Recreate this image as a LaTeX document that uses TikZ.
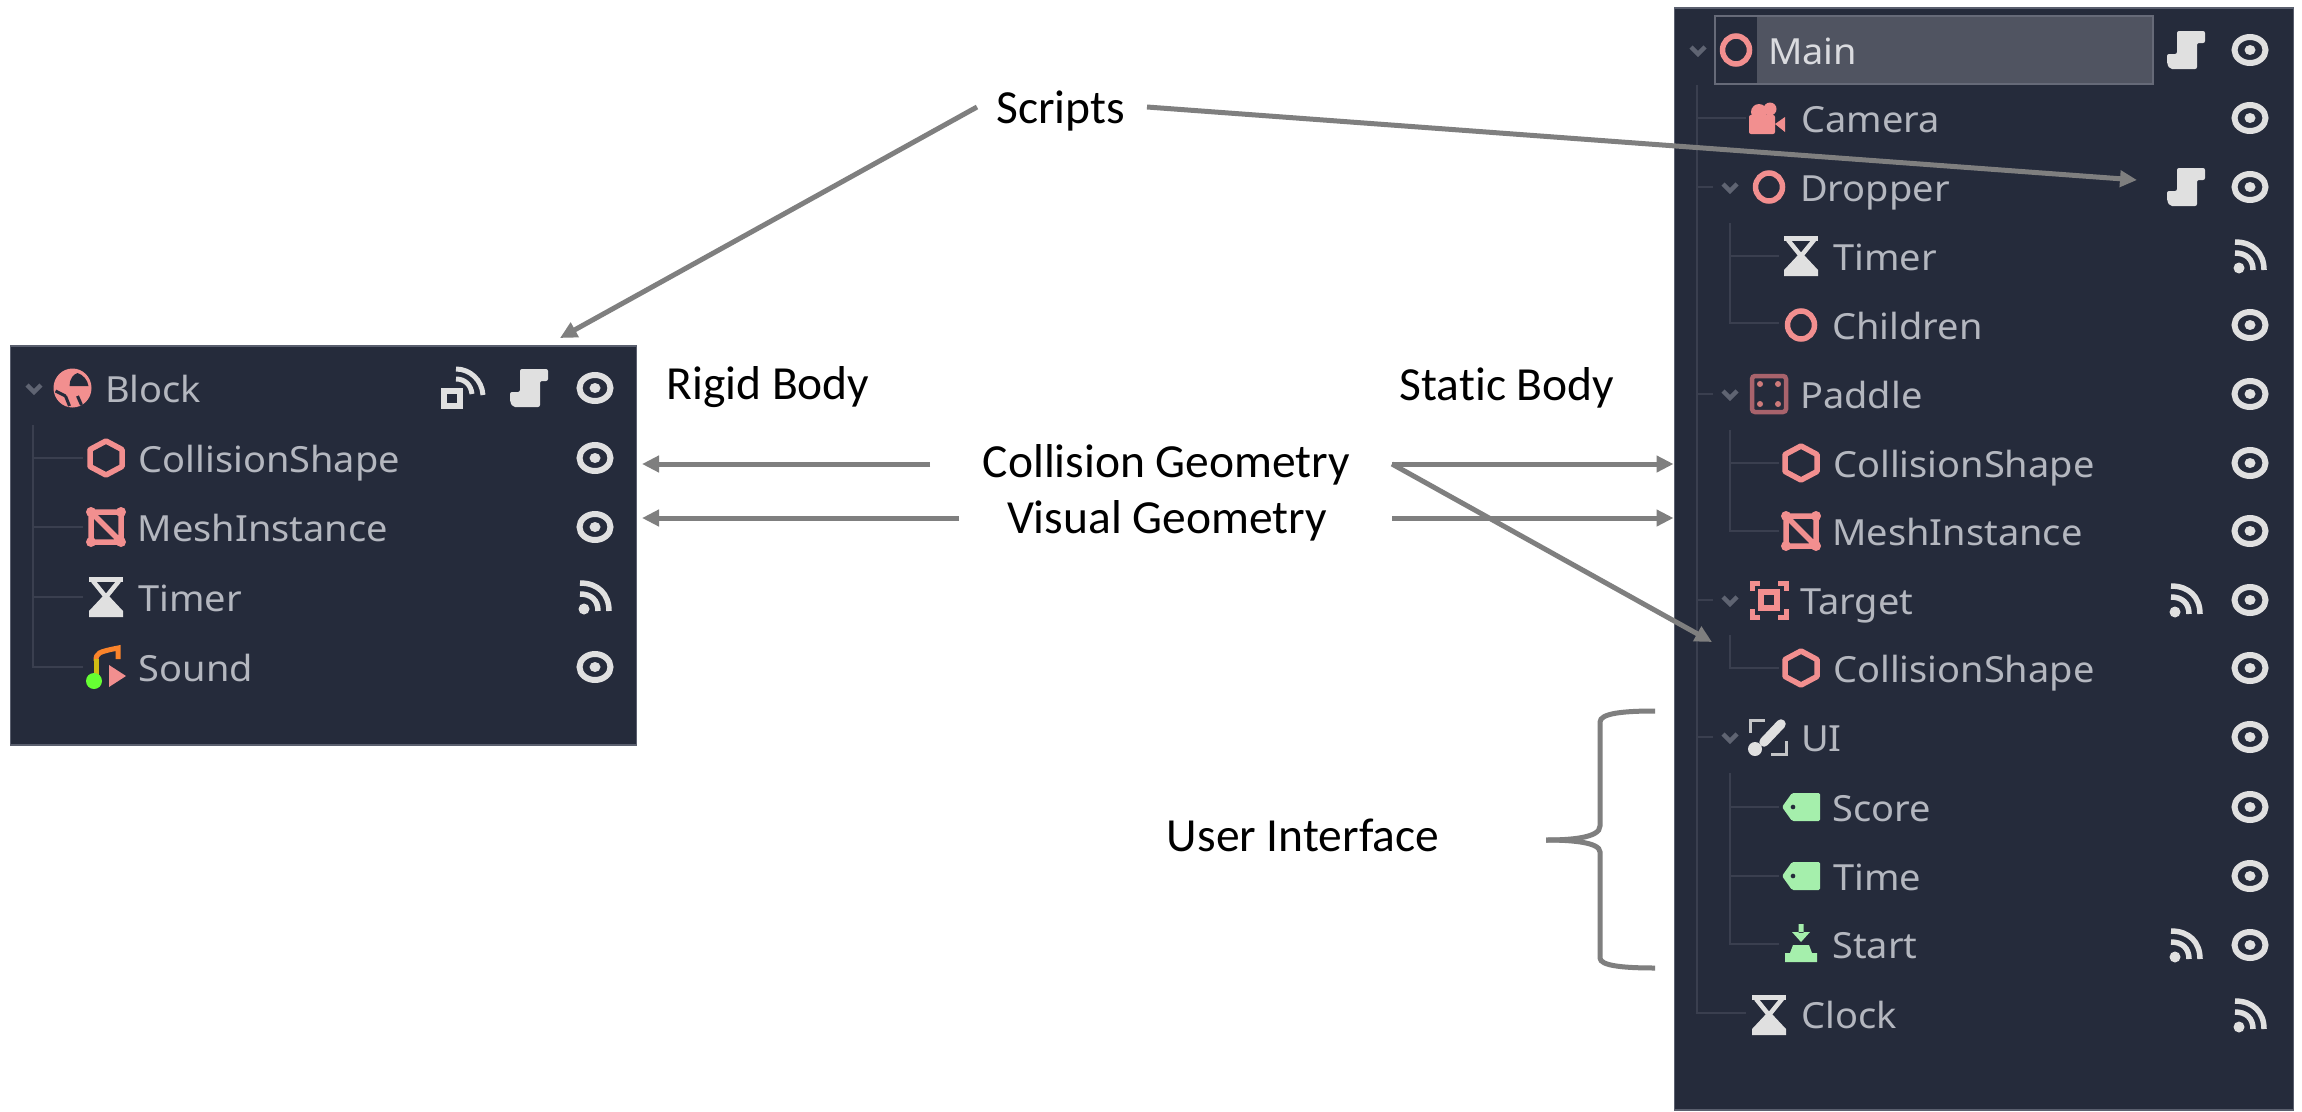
\documentclass[tikz,border=0pt]{standalone}
\usepackage{fontspec}
\setmainfont{Carlito}[Ligatures=NoCommon]
\newfontfamily\uifont[FakeStretch=1.055]{Noto Sans}
\usetikzlibrary{arrows.meta,calc}
\definecolor{panelbg}{HTML}{252B3B}
\definecolor{panelrim}{HTML}{5A5F6E}
\definecolor{treeln}{HTML}{3A3F4F}
\definecolor{uitext}{HTML}{B4B7BF}
\definecolor{uibright}{HTML}{DADBDF}
\definecolor{iconw}{HTML}{E0E0E0}
\definecolor{pinkic}{HTML}{F28F8F}
\definecolor{dimpink}{HTML}{A8636C}
\definecolor{greenic}{HTML}{A5EFAC}
\definecolor{chev}{HTML}{5F6472}
\definecolor{connc}{HTML}{7F7F7F}
\definecolor{selfill}{HTML}{505461}
\definecolor{selrim}{HTML}{666A78}
\tikzset{
  panel/.style={fill=panelbg,draw=panelrim,line width=1.5pt,inner sep=0pt,anchor=north west},
  treeline/.style={draw=treeln,line width=2pt},
  rowlabel/.style={font=\uifont\fontsize{36}{40}\selectfont,text=uitext,inner sep=0pt,anchor=base west},
  caption/.style={font=\fontsize{47.5}{50}\selectfont,text=black,inner sep=0pt,anchor=base},
  conn/.style={draw=connc,line width=5pt},
  connarrow/.style={conn,-{Triangle[length=17pt,width=16pt]}},
  eyeicon/.pic={
    \draw[iconw,line width=6pt] (0,0) ellipse[x radius=15.5,y radius=13];
    \fill[iconw] (0,0) ellipse[x radius=5.5,y radius=5];},
  sigicon/.pic={
    \fill[iconw] (-11,12) circle[radius=5.5];
    \draw[iconw,line width=5.5pt] (-15,-3) .. controls (-4,-3) and (3,3) .. (3,14);
    \draw[iconw,line width=5.5pt] (-15,-14) .. controls (3,-14) and (14,-3) .. (14,14);},
  groupsigicon/.pic={
    \draw[iconw,line width=5.5pt] (-19,3) rectangle (-3,18);
    \draw[iconw,line width=5pt] (-7,-9) .. controls (2,-9) and (8,-3) .. (9,6);
    \draw[iconw,line width=5pt] (-7,-19) .. controls (7,-19) and (19,-8) .. (20,7);},
  scripticon/.pic={
    \fill[iconw,rounded corners=2pt] (-9,-19) -- (19,-19) -- (19,-7) -- (11,-7) -- (11,19) -- (-16,19)
      -- (-19,14) -- (-19,4) -- (-9,4) -- cycle;},
  hourglassicon/.pic={
    \fill[iconw] (-17,-20) rectangle (17,-15);
    \draw[iconw,line width=4.5pt] (-13,-16) -- (0,0) -- (13,-16);
    \fill[iconw] (-2,-2) -- (2,-2) -- (17,14) -- (17,20) -- (-17,20) -- (-17,14) -- cycle;},
  hexicon/.pic={
    \draw[pinkic,line width=5.5pt,line join=round] (0,-17) -- (16,-8.5) -- (16,8.5) -- (0,17) -- (-16,8.5) -- (-16,-8.5) -- cycle;},
  meshicon/.pic={
    \draw[pinkic,line width=5.5pt] (-15,-15) rectangle (15,15) (-15,-15) -- (15,15);
    \foreach \a/\b in {-15/-15,15/-15,-15/15,15/15} \fill[pinkic] (\a,\b) circle[radius=5];},
  ringicon/.pic={
    \draw[pinkic,line width=5.5pt] (0,0) ellipse[x radius=13.5,y radius=14];},
  ballicon/.pic={
    \fill[pinkic] (0,0) ellipse[x radius=19,y radius=19.5];
    \fill[panelbg] (-3,-2) .. controls (-3,-9) and (1,-14) .. (5,-15) .. controls (11,-13) and (15,-8) .. (16,-2) -- cycle;
    \draw[panelbg,line width=3pt] (-17,3) -- (-7,8) (-7,8) -- (-3,18) (5,8) -- (9,17);},
  soundicon/.pic={
    \draw[iconw!0!orange!70!pinkic,line width=5pt] (-10,-6) .. controls (-10,-14) and (-8,-15) .. (12,-19) -- (12,-8);
    \draw[yellow!70!green!60!orange,line width=5pt] (-10,-8) -- (-10,8);
    \fill[green!75!yellow!80!white] (-12,14) circle[radius=8];
    \fill[pinkic] (3,-2) -- (20,9) -- (3,20) -- cycle;},
  cameraicon/.pic={
    \fill[pinkic,rounded corners=2pt] (-18,-3) rectangle (8,16);
    \fill[pinkic] (-8,-6) circle[radius=8] (3,-9) circle[radius=6.5];
    \fill[pinkic] (8,6) -- (18,-1) -- (18,14) -- cycle;},
  paddleicon/.pic={
    \draw[dimpink,line width=4.5pt,rounded corners=3pt] (-17,-18) rectangle (17,18);
    \foreach \a/\b in {-9/-10,9/-10,-9/10,9/10} \fill[pinkic!85!black] (\a,\b) circle[radius=3];},
  targeticon/.pic={
    \draw[pinkic,line width=5.5pt] (-8,-8) rectangle (8,8);
    \draw[pinkic,line width=5pt] (-17,-9) -- (-17,-17) -- (-9,-17) (9,-17) -- (17,-17) -- (17,-9)
      (17,9) -- (17,17) -- (9,17) (-9,17) -- (-17,17) -- (-17,9);},
  uiicon/.pic={
    \draw[iconw!85!panelbg,line width=3pt] (-18,-4) -- (-18,-17) -- (-3,-17) (18,4) -- (18,17) -- (3,17);
    \draw[iconw,line width=9.5pt,line cap=round] (-4,5) -- (13,-13);
    \fill[iconw] (-13,12) circle[radius=7];},
  tagicon/.pic={
    \fill[greenic,even odd rule,rounded corners=1.5pt] (-19,0) -- (-9,-14) -- (19,-14) -- (19,14) -- (-9,14) -- cycle
      (-8,0) circle[radius=2.5];},
  starticon/.pic={
    \fill[greenic] (-2.5,-19) rectangle (2.5,-10) (-9,-11) -- (9,-11) -- (0,-1) -- cycle;
    \fill[greenic] (-8,2) -- (8,2) -- (11,10) -- (16,10) -- (16,19) -- (-16,19) -- (-16,10) -- (-11,10) -- cycle;},
  chevicon/.pic={
    \draw[chev,line width=4.5pt] (-7,-3) -- (0,4) -- (7,-3);},
}
\begin{document}
\begin{tikzpicture}[x=1pt,y=-1pt]
\useasboundingbox (0,0) rectangle (2302,1111);
\fill[white] (0,0) rectangle (2302,1111);
% panels
\node[panel,minimum width=626pt,minimum height=399pt] (leftpanel) at (9.5,345) {};
\node[panel,minimum width=619pt,minimum height=1102pt] (rightpanel) at (1673.5,7) {};
% selection
\fill[selfill] (1715,16) rectangle (2153,84);
\fill[panelbg] (1715,16) rectangle (1757,84);
\draw[selrim,line width=2pt] (1715,16) rectangle (2153,84);
% tree lines left
\draw[treeline] (33,425) -- (33,667) -- (83,667) (33,458) -- (83,458) (33,527) -- (83,527) (33,597) -- (83,597);
% tree lines right
\draw[treeline] (1697,85) -- (1697,1013) -- (1746,1013) (1697,118) -- (1746,118)
  (1697,187) -- (1713,187) (1697,394) -- (1713,394) (1697,600) -- (1713,600) (1697,737) -- (1713,737);
\draw[treeline] (1730,223) -- (1730,323) -- (1779,323) (1730,256) -- (1779,256);
\draw[treeline] (1730,430) -- (1730,531) -- (1779,531) (1730,463) -- (1779,463);
\draw[treeline] (1730,635) -- (1730,668) -- (1779,668);
\draw[treeline] (1730,773) -- (1730,944) -- (1779,944) (1730,807) -- (1779,807) (1730,876) -- (1779,876);
% left rows
\pic at (34,388) {chevicon};
\pic at (72.5,388) {ballicon};
\pic at (106,458) {hexicon};
\pic at (106,527) {meshicon};
\pic at (106,597) {hourglassicon};
\pic at (106,667) {soundicon};
\node[rowlabel] (lblock) at (105,402) {Block};
\node[rowlabel] (lcoll) at (138.5,472) {CollisionShape};
\node[rowlabel] (lmesh) at (137.5,541) {MeshInstance};
\node[rowlabel] (ltimer) at (138,611) {Timer};
\node[rowlabel] (lsound) at (138.5,681) {Sound};
\pic at (463,388) {groupsigicon};
\pic at (529,388) {scripticon};
\foreach \y in {388,458,527,667} \pic at (595,\y) {eyeicon};
\pic at (595,597) {sigicon};
% right rows
\pic at (1698,50) {chevicon};
\pic at (1736,50) {ringicon};
\pic at (1767,118) {cameraicon};
\pic at (1730,187) {chevicon};
\pic at (1769,187) {ringicon};
\pic at (1801,256) {hourglassicon};
\pic at (1801,325) {ringicon};
\pic at (1730,394) {chevicon};
\pic at (1769,394) {paddleicon};
\pic at (1801,463) {hexicon};
\pic at (1801,531) {meshicon};
\pic at (1730,600) {chevicon};
\pic at (1769,600) {targeticon};
\pic at (1801,668) {hexicon};
\pic at (1730,737) {chevicon};
\pic at (1768,737) {uiicon};
\pic at (1801,807) {tagicon};
\pic at (1801,876) {tagicon};
\pic at (1801,943) {starticon};
\pic at (1769,1015) {hourglassicon};
\node[rowlabel,text=uibright] (rmain) at (1768,64) {Main};
\node[rowlabel] (rcamera) at (1801,132) {Camera};
\node[rowlabel] (rdropper) at (1800,201) {Dropper};
\node[rowlabel] (rtimer) at (1833,270) {Timer};
\node[rowlabel] (rchildren) at (1832,339) {Children};
\node[rowlabel] (rpaddle) at (1800,408) {Paddle};
\node[rowlabel] (rcoll) at (1833,477) {CollisionShape};
\node[rowlabel] (rmesh) at (1832,545) {MeshInstance};
\node[rowlabel] (rtarget) at (1800,614) {Target};
\node[rowlabel] (rcollb) at (1833,682) {CollisionShape};
\node[rowlabel] (rui) at (1801,751) {UI};
\node[rowlabel] (rscore) at (1832,821) {Score};
\node[rowlabel] (rtime) at (1833,890) {Time};
\node[rowlabel] (rstart) at (1832,958) {Start};
\node[rowlabel] (rclock) at (1801,1028) {Clock};
\pic at (2186,50) {scripticon};
\pic at (2186,187) {scripticon};
\pic at (2186,600) {sigicon};
\pic at (2186,945) {sigicon};
\foreach \y in {50,118,187,325,394,463,531,600,668,737,807,876,945} \pic at (2250,\y) {eyeicon};
\pic at (2250,256) {sigicon};
\pic at (2250,1015) {sigicon};
% captions
\node[caption] (scripts) at (1060.5,123) {Scripts};
\node[caption] (rigid) at (768,399) {Rigid Body};
\node[caption] (static) at (1507,400) {Static Body};
\node[caption] (cgeom) at (1166.5,477) {Collision Geometry};
\node[caption] (vgeom) at (1167,533) {Visual Geometry};
\node[caption] (uilabel) at (1303,851) {User Interface};
% connector end points
\coordinate (scriptsL) at (977,107);
\coordinate (scriptsR) at (1147,107);
\coordinate (blockTip) at (560,338);
\coordinate (dropperTip) at (2137,180);
\coordinate (cgL) at (930,464);
\coordinate (vgL) at (959,518);
\coordinate (cgR) at (1392,464);
\coordinate (vgR) at (1392,518);
\coordinate (targetTip) at (1712,642);
\coordinate (leftTipA) at (642,464);
\coordinate (leftTipB) at (642,518);
% connectors
\draw[connarrow] (scriptsL) -- (blockTip);
\draw[connarrow] (scriptsR) -- (dropperTip);
\draw[connarrow] (cgL) -- (leftTipA);
\draw[connarrow] (vgL) -- (leftTipB);
\draw[connarrow] (cgR) -- (cgR -| rightpanel.west);
\draw[connarrow] (vgR) -- (vgR -| rightpanel.west);
\draw[connarrow] (cgR) -- (targetTip);
% brace
\draw[conn,line width=5pt] (1655,711) .. controls (1625,711) and (1600,713) .. (1600,722) -- (1600,826)
  .. controls (1600,838) and (1570,840) .. (1546,840);
\draw[conn,line width=5pt] (1546,840) .. controls (1570,840) and (1600,842) .. (1600,852) -- (1600,958)
  .. controls (1600,966) and (1625,968) .. (1655,968);
\end{tikzpicture}
\end{document}
